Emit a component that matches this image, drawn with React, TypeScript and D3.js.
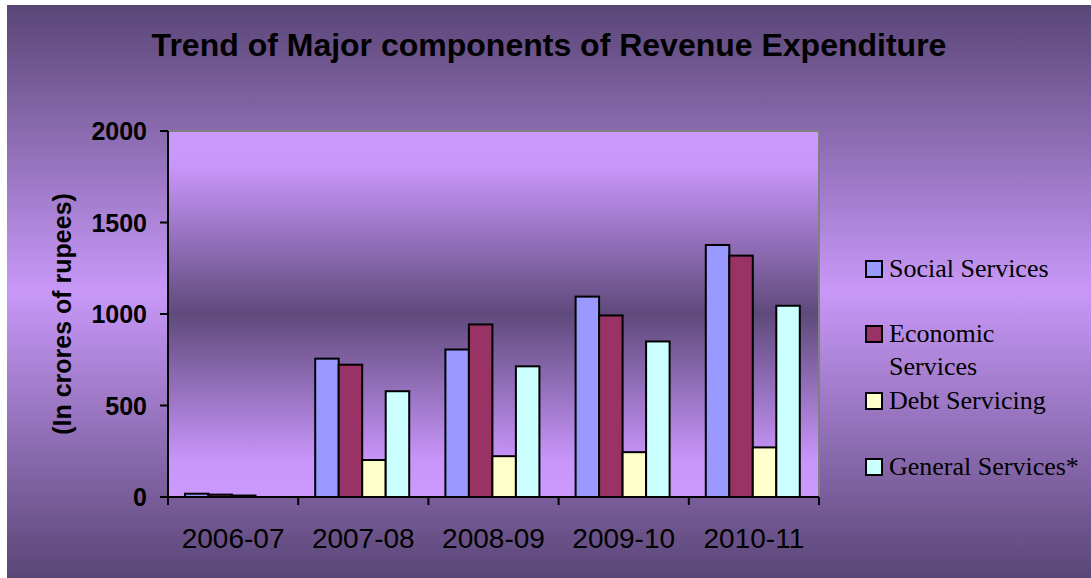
import * as d3 from "d3";

const categories = ["2006-07", "2007-08", "2008-09", "2009-10", "2010-11"];
const seriesNames = ["Social Services", "Economic Services", "Debt Servicing", "General Services*"];
const social = [18, 756, 806, 1095, 1377];
const economic = [13, 723, 943, 992, 1319];
const debt = [8, 202, 223, 245, 271];
const general = [0, 578, 714, 850, 1045];
const yTicks = [0, 500, 1000, 1500, 2000];
const legendLabels = [["Social Services"], ["Economic", "Services"], ["Debt Servicing"], ["General Services*"]];
const colors = ["#9999ff", "#993366", "#ffffcc", "#ccffff"];

const W = 1091;
const H = 578;
const plot = { left: 168, right: 819, top: 131, bottom: 497 };

const App = () => {
  const values = [social, economic, debt, general];

  const x0 = d3.scaleBand<string>().domain(categories).range([plot.left, plot.right]).paddingInner(0);
  const x1 = d3.scaleBand<string>().domain(seriesNames).range([17, 111]).padding(0);
  const y = d3.scaleLinear().domain([0, 2000]).range([plot.bottom, plot.top]);
  const color = d3.scaleOrdinal<string, string>().domain(seriesNames).range(colors);

  const sans = "'Liberation Sans', Arial, sans-serif";
  const serif = "'Liberation Serif', 'Times New Roman', serif";

  const legendTop = [261, 326, 393, 459];

  return (
    <svg width={W} height={H} style={{ position: "absolute", left: 0, top: 0 }}>
      <defs>
        <linearGradient id="outerBg" x1="0" y1="0" x2="0" y2="1">
          <stop offset="0" stopColor="#5a4676" />
          <stop offset="0.5" stopColor="#c898f8" />
          <stop offset="1" stopColor="#5a4676" />
        </linearGradient>
        <linearGradient id="plotBg" x1="0" y1="0" x2="0" y2="1">
          <stop offset="0" stopColor="#cc99ff" />
          <stop offset="0.1" stopColor="#c895fa" />
          <stop offset="0.5" stopColor="#5f4a7b" />
          <stop offset="0.9" stopColor="#c895fa" />
          <stop offset="1" stopColor="#cc99ff" />
        </linearGradient>
      </defs>
      <rect x={0} y={0} width={W} height={H} fill="#ffffff" />
      <rect x={7} y={5} width={W - 7} height={H - 5} fill="url(#outerBg)" />

      {/* title */}
      <text x={549} y={56} textAnchor="middle" fontFamily={sans} fontWeight="bold" fontSize={32} fill="#000">
        Trend of Major components of Revenue Expenditure
      </text>

      {/* plot area */}
      <rect x={plot.left} y={plot.top} width={plot.right - plot.left} height={plot.bottom - plot.top} fill="url(#plotBg)" />
      <polyline
        points={`${plot.left},${plot.top} ${plot.right},${plot.top} ${plot.right},${plot.bottom}`}
        fill="none"
        stroke="#808080"
        strokeWidth={2}
      />

      {/* bars */}
      {categories.map((c, i) => (
        <g key={c} transform={`translate(${x0(c)},0)`}>
          {seriesNames.map((s, j) => {
            const v = values[j][i];
            if (v <= 0) return null;
            return (
              <rect
                key={s}
                x={x1(s)}
                y={y(v)}
                width={x1.bandwidth()}
                height={plot.bottom - y(v)}
                fill={color(s)}
                stroke="#000"
                strokeWidth={2}
              />
            );
          })}
        </g>
      ))}

      {/* y axis */}
      <line x1={plot.left} x2={plot.left} y1={plot.top} y2={plot.bottom} stroke="#000" strokeWidth={2} />
      {yTicks.map((t) => (
        <g key={t}>
          <line x1={plot.left - 8} x2={plot.left} y1={y(t)} y2={y(t)} stroke="#000" strokeWidth={2} />
          <text
            x={plot.left - 21}
            y={y(t) + 9}
            textAnchor="end"
            fontFamily={sans}
            fontWeight="bold"
            fontSize={25}
            fill="#000"
          >
            {t}
          </text>
        </g>
      ))}
      <text
        transform={`translate(71,${(plot.top + plot.bottom) / 2}) rotate(-90)`}
        textAnchor="middle"
        fontFamily={sans}
        fontWeight="bold"
        fontSize={25}
        fill="#000"
      >
        (In crores of rupees)
      </text>

      {/* x axis */}
      <line x1={plot.left} x2={plot.right} y1={plot.bottom} y2={plot.bottom} stroke="#000" strokeWidth={2} />
      {[...categories.map((c) => x0(c) as number), plot.right].map((tx, i) => (
        <line key={i} x1={tx} x2={tx} y1={plot.bottom} y2={plot.bottom + 8} stroke="#000" strokeWidth={2} />
      ))}
      {categories.map((c) => (
        <text
          key={c}
          x={(x0(c) as number) + x0.bandwidth() / 2}
          y={548}
          textAnchor="middle"
          fontFamily={sans}
          fontSize={28}
          fill="#000"
        >
          {c}
        </text>
      ))}

      {/* legend */}
      {seriesNames.map((s, i) => (
        <g key={s}>
          <rect x={866} y={legendTop[i]} width={16} height={16} fill={color(s)} stroke="#000" strokeWidth={2} />
          {legendLabels[i].map((line, k) => (
            <text
              key={k}
              x={889}
              y={legendTop[i] + 16 + k * 32.5}
              fontFamily={serif}
              fontSize={26}
              fill="#000"
            >
              {line}
            </text>
          ))}
        </g>
      ))}
    </svg>
  );
};

export default App;
